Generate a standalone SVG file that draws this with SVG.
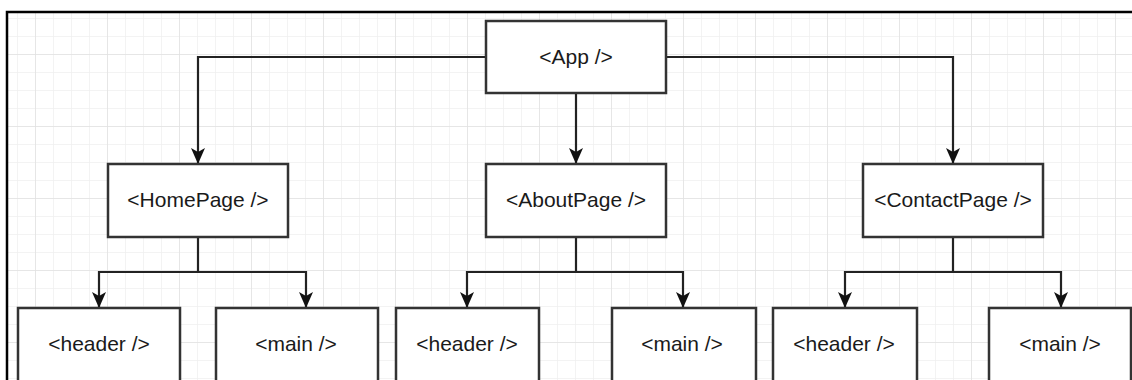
<svg xmlns="http://www.w3.org/2000/svg" width="1132" height="380" viewBox="0 0 1132 380">
<defs>
<pattern id="minor" x="17" y="0" width="18" height="18" patternUnits="userSpaceOnUse">
<path d="M0 0V18M0 0H18" fill="none" stroke="#f0f0f0" stroke-width="1.5"/>
</pattern>
<pattern id="major" x="35" y="54" width="72" height="72" patternUnits="userSpaceOnUse">
<path d="M0 0V72M0 0H72" fill="none" stroke="#e2e2e2" stroke-width="1.5"/>
</pattern>
<marker id="arr" viewBox="0 0 16 14" refX="16" refY="7" markerWidth="16" markerHeight="14" markerUnits="userSpaceOnUse" orient="auto">
<path d="M0 0L4 7L0 14L16 7Z" fill="#111"/>
</marker>
</defs>
<style>
.box{fill:#fff;stroke:#333;stroke-width:2.5}
.lbl{font-family:"Liberation Sans",Arial,sans-serif;font-size:21px;fill:#1a1a1a;text-anchor:middle}
.con{fill:none;stroke:#222;stroke-width:2.2}
</style>
<rect x="0" y="0" width="1132" height="380" fill="#fff"/>
<rect x="7" y="12" width="1125" height="368" fill="url(#minor)"/>
<rect x="7" y="12" width="1125" height="368" fill="url(#major)"/>
<path d="M7 381V12H1132" fill="none" stroke="#000" stroke-width="2.5"/>
<g id="connectors">
<path class="con" d="M486 57H198V164" marker-end="url(#arr)"/>
<path class="con" d="M576 93V164" marker-end="url(#arr)"/>
<path class="con" d="M666 57H953V164" marker-end="url(#arr)"/>
<path class="con" d="M198 237V272H99V308" marker-end="url(#arr)"/>
<path class="con" d="M198 272H306V308" marker-end="url(#arr)"/>
<path class="con" d="M576 237V272H467V308" marker-end="url(#arr)"/>
<path class="con" d="M576 272H683V308" marker-end="url(#arr)"/>
<path class="con" d="M953 237V272H845V308" marker-end="url(#arr)"/>
<path class="con" d="M953 272H1061V308" marker-end="url(#arr)"/>
</g>
<g id="app"><rect class="box" x="486" y="21" width="180" height="72"/><text class="lbl" x="576" y="64">&lt;App /&gt;</text></g>
<g id="homepage"><rect class="box" x="108" y="164" width="180" height="73"/><text class="lbl" x="198" y="207">&lt;HomePage /&gt;</text></g>
<g id="aboutpage"><rect class="box" x="486" y="164" width="180" height="73"/><text class="lbl" x="576" y="207">&lt;AboutPage /&gt;</text></g>
<g id="contactpage"><rect class="box" x="863" y="164" width="180" height="73"/><text class="lbl" x="953" y="207">&lt;ContactPage /&gt;</text></g>
<g id="header1"><rect class="box" x="18" y="308" width="162" height="90"/><text class="lbl" x="99" y="351">&lt;header /&gt;</text></g>
<g id="main1"><rect class="box" x="216" y="308" width="162" height="90"/><text class="lbl" x="296" y="351">&lt;main /&gt;</text></g>
<g id="header2"><rect class="box" x="396" y="308" width="143" height="90"/><text class="lbl" x="467" y="351">&lt;header /&gt;</text></g>
<g id="main2"><rect class="box" x="612" y="308" width="144" height="90"/><text class="lbl" x="682" y="351">&lt;main /&gt;</text></g>
<g id="header3"><rect class="box" x="773" y="308" width="144" height="90"/><text class="lbl" x="844" y="351">&lt;header /&gt;</text></g>
<g id="main3"><rect class="box" x="989" y="308" width="142" height="90"/><text class="lbl" x="1060" y="351">&lt;main /&gt;</text></g>
</svg>
